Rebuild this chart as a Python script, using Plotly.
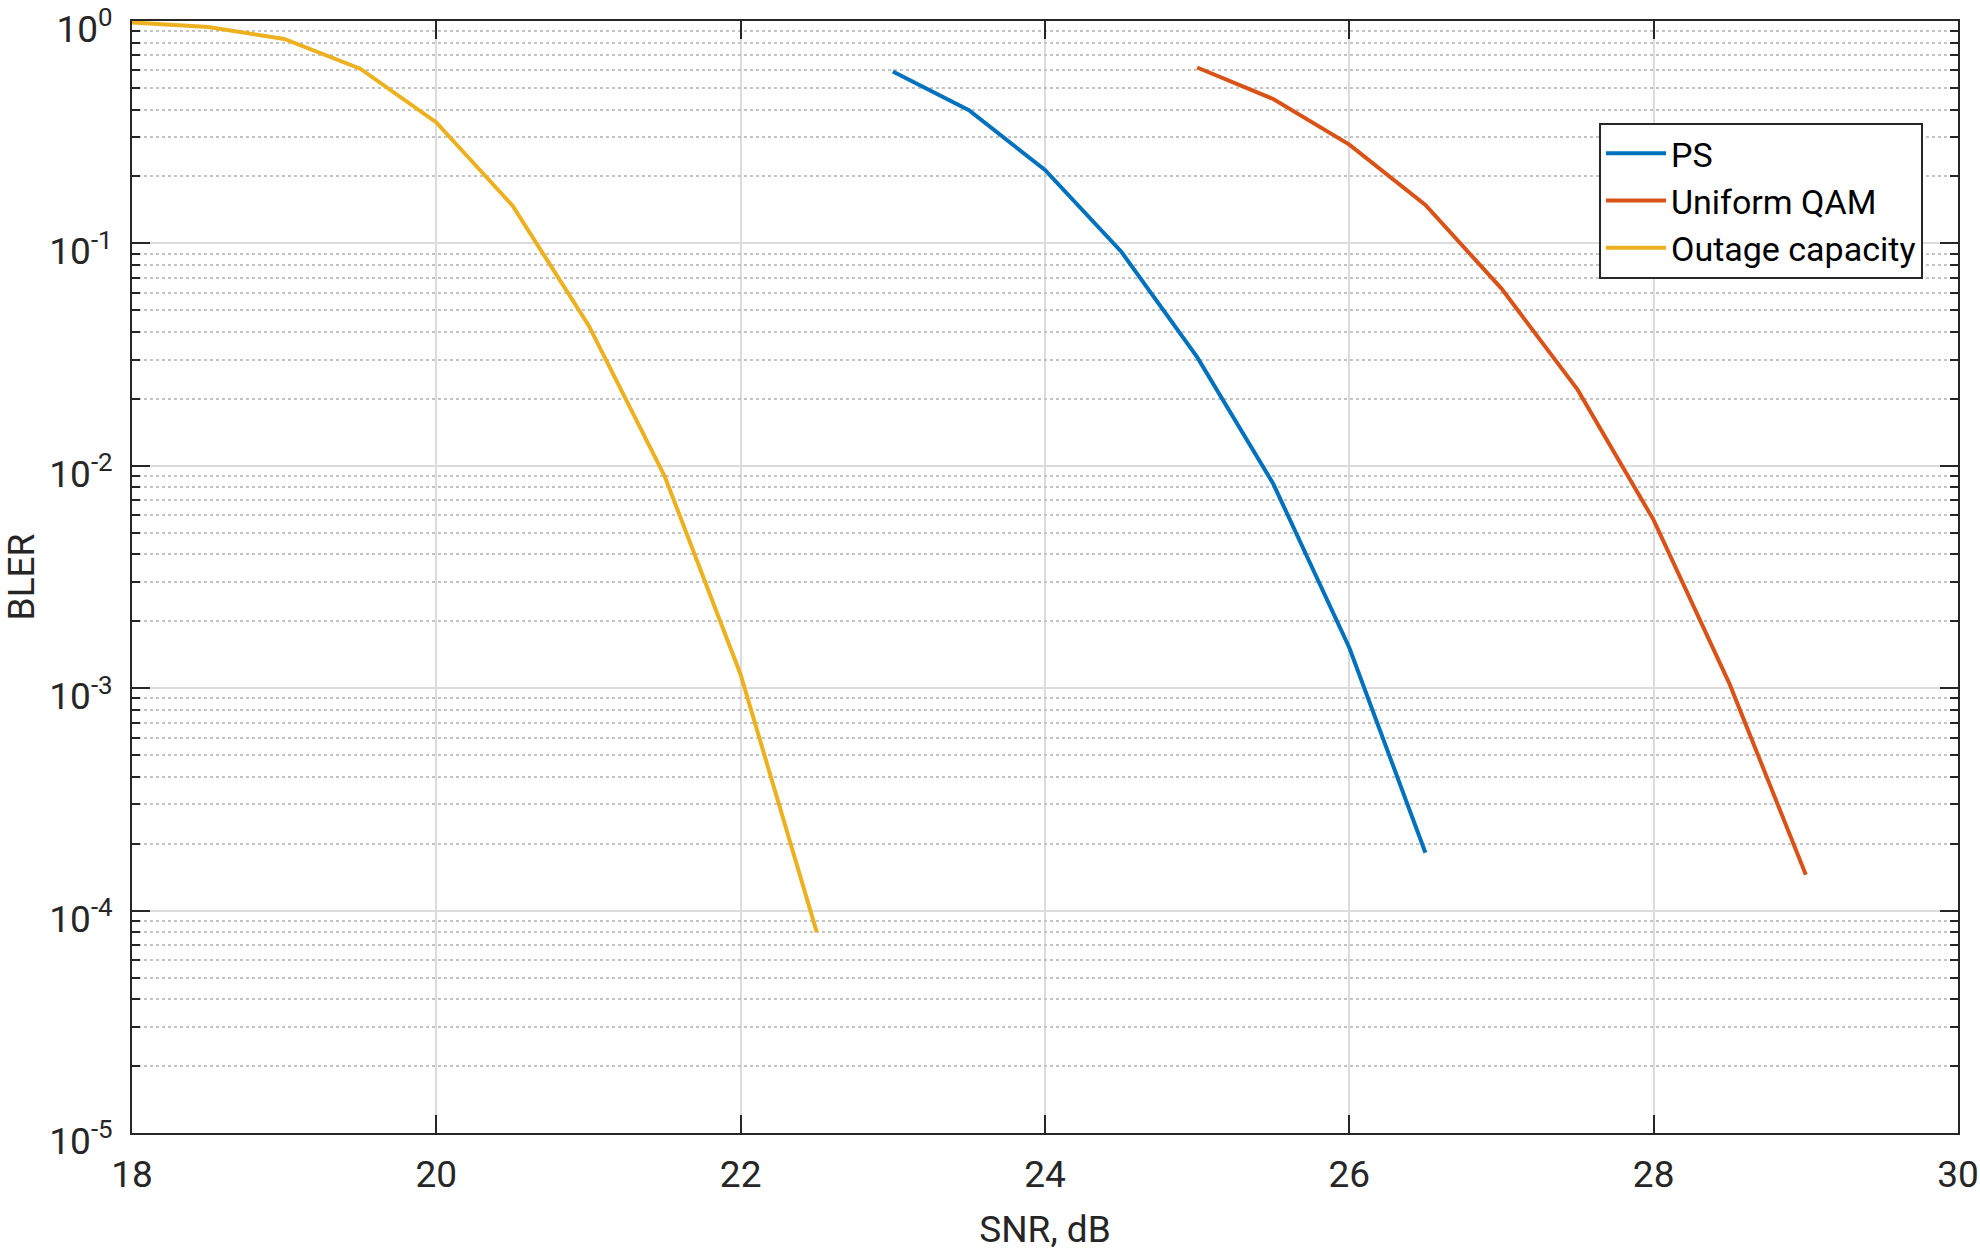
import plotly.graph_objects as go

# SNR in dB and block error rates
snr_ps = [23, 23.5, 24, 24.5, 25, 25.5, 26, 26.5]
bler_ps = [0.593, 0.397, 0.214, 0.092, 0.0308, 0.0083, 0.00152, 0.000182]

snr_qam = [25, 25.5, 26, 26.5, 27, 27.5, 28, 28.5, 29]
bler_qam = [0.618, 0.446, 0.278, 0.149, 0.0626, 0.022, 0.0057, 0.00104, 0.000145]

snr_out = [18, 18.5, 19, 19.5, 20, 20.5, 21, 21.5, 22, 22.5]
bler_out = [0.985, 0.94, 0.83, 0.61, 0.35, 0.148, 0.0429, 0.0090, 0.00115, 0.00008]

x_ticks = [18, 20, 22, 24, 26, 28, 30]
y_ticks = [1e-5, 1e-4, 1e-3, 1e-2, 1e-1, 1]
y_ticktext = ["10<sup>-5</sup>", "10<sup>-4</sup>", "10<sup>-3</sup>",
              "10<sup>-2</sup>", "10<sup>-1</sup>", "10<sup>0</sup>"]
# minor ticks at 2..9 of every decade
y_minor = [m * 10.0 ** e for e in range(-5, 0) for m in range(2, 10)]

axis_col = "#262626"
font = "Roboto"

fig = go.Figure()
fig.add_trace(go.Scatter(x=snr_ps, y=bler_ps, mode="lines", name="PS",
                         line=dict(color="#0072BD", width=4)))
fig.add_trace(go.Scatter(x=snr_qam, y=bler_qam, mode="lines", name="Uniform QAM",
                         line=dict(color="#D95319", width=4)))
fig.add_trace(go.Scatter(x=snr_out, y=bler_out, mode="lines", name="Outage capacity",
                         line=dict(color="#EDB120", width=4)))
# empty trace so the minor-grid overlay axis gets drawn
fig.add_trace(go.Scatter(x=[], y=[], yaxis="y2", showlegend=False, hoverinfo="skip"))

fig.update_layout(
    width=1980, height=1251,
    paper_bgcolor="white", plot_bgcolor="white",
    margin=dict(l=132, r=22, t=21, b=118, autoexpand=False),
    font=dict(family=font, size=37, color=axis_col),
    legend=dict(x=0.8034, y=0.9085, xanchor="left", yanchor="top",
                bordercolor=axis_col, borderwidth=2, bgcolor="white",
                font=dict(size=34, color="black"), itemwidth=60,
                tracegroupgap=0),
    showlegend=True,
    yaxis=dict(
        type="log", range=[-5, 0],
        tickvals=y_ticks, ticktext=y_ticktext,
        showline=True, linecolor=axis_col, linewidth=2, mirror="ticks",
        ticks="inside", ticklen=18, tickwidth=2, tickcolor=axis_col,
        showgrid=True, gridcolor="#dcdcdc", gridwidth=1.5,
        zeroline=False, ticklabelstandoff=10, ticklabelshift=8,
        ticklabeloverflow="allow",
        title=dict(text="BLER", font=dict(size=37, color=axis_col), standoff=20),
    ),
    # overlay axis only carries the dotted minor grid and short ticks
    yaxis2=dict(
        type="log", range=[-5, 0], overlaying="y", side="left",
        tickvals=y_minor, showticklabels=False,
        showline=False, mirror="ticks", linecolor=axis_col,
        ticks="inside", ticklen=8, tickwidth=2, tickcolor=axis_col,
        showgrid=True, gridcolor="#c4c4c4", griddash="dot", gridwidth=1.5,
        zeroline=False,
    ),
)

fig.update_xaxes(
    range=[18, 30], tickvals=x_ticks,
    showline=True, linecolor=axis_col, linewidth=2, mirror="ticks",
    ticks="inside", ticklen=18, tickwidth=2, tickcolor=axis_col,
    showgrid=True, gridcolor="#dcdcdc", gridwidth=1.5,
    zeroline=False, ticklabelstandoff=8, ticklabeloverflow="allow",
    title=dict(text="SNR, dB", font=dict(size=37, color=axis_col), standoff=21),
)

# drop the default body margin so the figure fills the window exactly
fig.write_html("out.html", config={"displayModeBar": False},
               post_script="document.body.style.margin='0';")
